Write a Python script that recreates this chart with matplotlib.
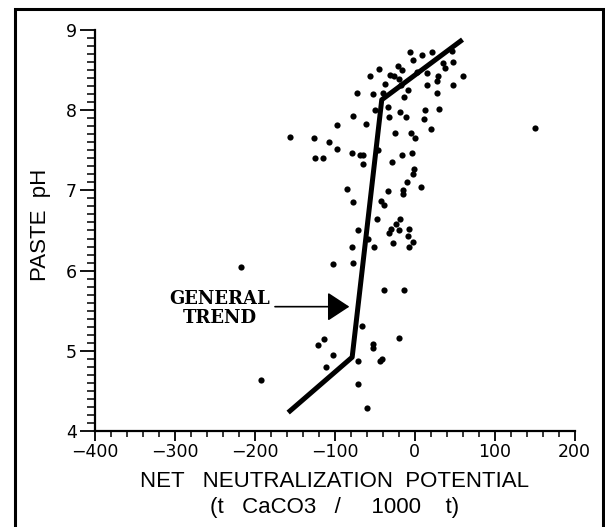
import matplotlib

matplotlib.use("Agg")
import matplotlib.pyplot as plt
from matplotlib.patches import Rectangle
from matplotlib.ticker import MultipleLocator

# Paste pH against net neutralization potential (t CaCO3 / 1000 t), one pair per sample
NNP = [
    -5.8, 8.8, 21.3, -2.4, -20.3, -16.2, -30.8, -26.0, -44.1, -55.8,
    -37.0, -19.0, -17.4, 3.4, 15.0, 29.7, 38.0, 47.6, 46.5, 36.0,
    60.9, 47.6, 27.6, 15.0, -7.8, -13.2, -39.0, -52.4, -72.4, 27.6,
    -49.5, -32.8, -18.2, -31.6, -10.8, 13.0, 11.8, 30.9, -76.6, -97.4,
    -60.8, -24.5, -4.5, 0.5, 20.5,
    -155.5, -126.3, -107.0, -124.5, -115.0, -96.6, -77.6, -68.2, -64.1, -64.9,
    -45.3, -16.2, -28.7, -3.7, -0.8, -2.5, -9.1, -14.1, -14.1, 7.6,
    -33.0, -84.9, -77.4, -42.4, -38.2, -46.6, -18.2, -23.2, -30.0, -31.6,
    -19.1, -6.6, -7.8, -1.6, -6.6, -26.6, -50.8, -70.3, -78.7, -57.8,
    -216.4, -101.6, -76.6, -37.8, -13.2, -66.2, -113.6, -120.3, -101.6, -52.4,
    -52.0, -19.1, -41.2, -43.2, -70.3, -111.0, -70.3, -59.9, -192.4, 150.3,
]
PASTE_PH = [
    8.72, 8.69, 8.72, 8.62, 8.55, 8.50, 8.44, 8.43, 8.51, 8.43,
    8.33, 8.39, 8.31, 8.48, 8.46, 8.43, 8.52, 8.60, 8.74, 8.59,
    8.43, 8.31, 8.37, 8.31, 8.25, 8.17, 8.22, 8.20, 8.22, 8.22,
    8.00, 8.04, 7.98, 7.91, 7.91, 8.00, 7.89, 8.01, 7.93, 7.81,
    7.83, 7.71, 7.72, 7.65, 7.76,
    7.67, 7.65, 7.60, 7.41, 7.40, 7.51, 7.46, 7.44, 7.44, 7.33,
    7.50, 7.44, 7.36, 7.47, 7.27, 7.20, 7.11, 7.00, 6.96, 7.04,
    6.99, 7.02, 6.86, 6.87, 6.82, 6.64, 6.64, 6.58, 6.52, 6.47,
    6.50, 6.52, 6.43, 6.36, 6.30, 6.34, 6.30, 6.51, 6.30, 6.40,
    6.05, 6.08, 6.10, 5.76, 5.76, 5.31, 5.15, 5.07, 4.95, 5.09,
    5.04, 5.16, 4.90, 4.87, 4.87, 4.80, 4.59, 4.29, 4.63, 7.78,
]

# hand-drawn general trend (piecewise line)
TREND_NNP = [-158, -78, -41, 60]
TREND_PH = [4.23, 4.92, 8.13, 8.88]

X_TICKS = [-400, -300, -200, -100, 0, 100, 200]
Y_TICKS = [4, 5, 6, 7, 8, 9]

ARROW_TAIL = (-174.5, 5.55)
ARROW_TIP = (-81.5, 5.55)


def main():
    fig = plt.figure(figsize=(6.05, 5.27), dpi=100)
    fig.patch.set_facecolor("white")

    # border drawn around the whole figure
    fig.add_artist(Rectangle((0.0243, -0.05), 0.9724, 1.0324, transform=fig.transFigure,
                             fill=False, edgecolor="black", linewidth=2.2))

    ax = fig.add_axes([0.1564, 0.1822, 0.7932, 0.7609])
    ax.set_xlim(-400, 200)
    ax.set_ylim(4, 9)

    ax.scatter(NNP, PASTE_PH, s=20, color="black", linewidths=0, zorder=3)
    ax.plot(TREND_NNP, TREND_PH, color="black", linewidth=3.6,
            solid_capstyle="butt", solid_joinstyle="round", zorder=4)

    ax.annotate("", xy=ARROW_TIP, xytext=ARROW_TAIL,
                arrowprops=dict(arrowstyle="-|>,head_length=1.37,head_width=0.9",
                                mutation_scale=10, color="black", linewidth=1.2,
                                shrinkA=0, shrinkB=0))
    ax.text(-244, 5.525, "GENERAL\nTREND", ha="center", va="center",
            family="DejaVu Serif", fontweight="bold", fontsize=13, linespacing=1.1)

    for side in ("top", "right"):
        ax.spines[side].set_visible(False)
    for side in ("left", "bottom"):
        ax.spines[side].set_linewidth(1.6)

    ax.set_xticks(X_TICKS)
    ax.set_yticks(Y_TICKS)
    ax.xaxis.set_minor_locator(MultipleLocator(20))
    ax.yaxis.set_minor_locator(MultipleLocator(0.1))
    ax.tick_params(axis="x", which="major", direction="out", length=7, width=1.3, pad=1.8)
    ax.tick_params(axis="x", which="minor", direction="out", length=4.3, width=1.1)
    ax.tick_params(axis="y", which="major", direction="out", length=11, width=1.3, pad=2)
    ax.tick_params(axis="y", which="minor", direction="out", length=5.5, width=1.1)
    for lab in ax.get_xticklabels() + ax.get_yticklabels():
        lab.set_family("DejaVu Sans")
        lab.set_fontsize(12.5)

    ax.set_xlabel("NET   NEUTRALIZATION  POTENTIAL\n(t   CaCO3   /     1000    t)",
                  family="Liberation Sans", fontsize=16, linespacing=1.3, va="top")
    ax.xaxis.set_label_coords(0.5, -0.1)
    ax.set_ylabel("PASTE  pH", family="Liberation Sans", fontsize=16)
    ax.yaxis.set_label_coords(-0.091, 0.515)

    fig.savefig("out.png", dpi=100, facecolor="white")
    plt.close(fig)


if __name__ == "__main__":
    main()
